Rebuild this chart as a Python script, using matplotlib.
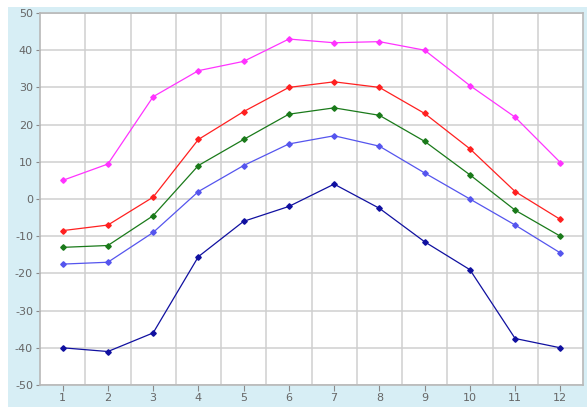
import numpy as np
import matplotlib.pyplot as plt
import matplotlib.patches as mpatches

plt.rcParams['axes.unicode_minus'] = False

months = np.arange(1, 13)
magenta = [5, 9.4, 27.5, 34.5, 37, 43, 42, 42.3, 40, 30.5, 22, 9.8]
red = [-8.5, -7, 0.5, 16, 23.5, 30, 31.5, 30, 23, 13.5, 2, -5.5]
green = [-13, -12.5, -4.5, 9, 16, 22.8, 24.5, 22.5, 15.5, 6.5, -3, -10]
lightblue = [-17.5, -17, -9, 2, 9, 14.8, 17, 14.2, 7, 0, -7, -14.5]
darkblue = [-40, -41, -36, -15.5, -6, -2, 4, -2.5, -11.5, -19, -37.5, -40]

series = [(magenta, '#ff33ff'), (red, '#ff2020'), (green, '#1a7a1a'),
          (lightblue, '#5555ee'), (darkblue, '#1010a0')]

fig = plt.figure(figsize=(5.87, 4.07), dpi=100, facecolor='white')
fig.patches.append(mpatches.Rectangle((8/587, 0), 1, (407-7)/407, transform=fig.transFigure,
                                      facecolor='#d7eef5', edgecolor='none', zorder=-10))
ax = fig.add_axes([40/587, 22/407, 543/587, 372/407])
ax.set_facecolor('white')

for vals, c in series:
    ax.plot(months, vals, color=c, lw=0.9, marker='D', ms=2.8, zorder=3)

ax.set_xlim(0.5, 12.5)
ax.set_ylim(-50, 50)
ax.set_xticks(months)
ax.set_yticks(np.arange(-50, 51, 10))
ax.set_xticks(np.arange(1.5, 12.5, 1), minor=True)
ax.grid(which='minor', axis='x', color='#cfcfcf', lw=1.1)
ax.grid(which='major', axis='y', color='#cfcfcf', lw=1.1)
ax.tick_params(axis='x', which='minor', length=0)
ax.tick_params(axis='x', which='major', length=4, color='#888888', labelsize=8, labelcolor='#666666', pad=2)
ax.tick_params(axis='y', length=3, color='#888888', labelsize=8, labelcolor='#666666', pad=2)
for s in ax.spines.values():
    s.set_color('#b8b8b8')
    s.set_linewidth(1.2)

plt.savefig('out.png', dpi=100)
